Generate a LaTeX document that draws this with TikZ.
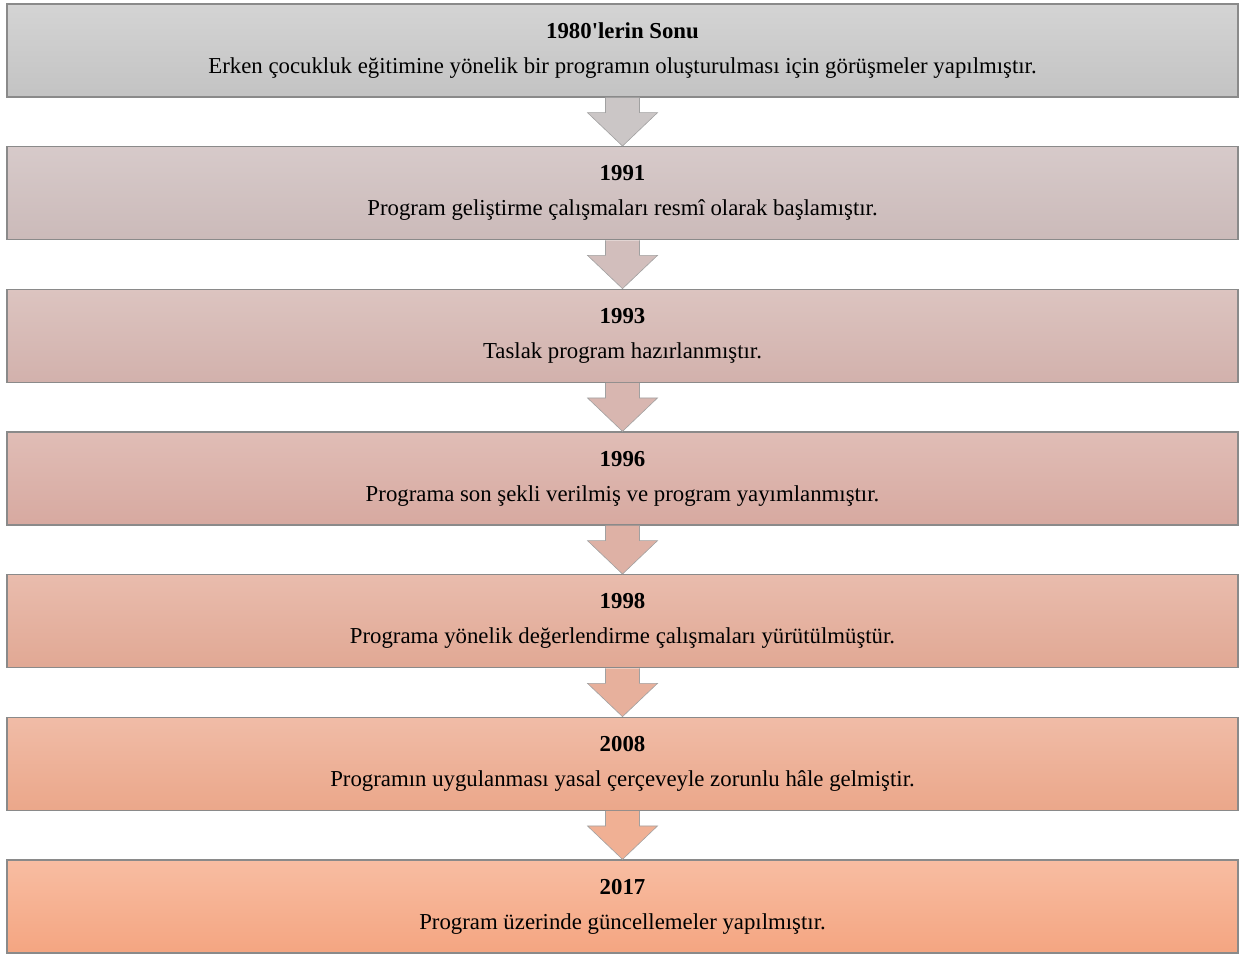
\documentclass[tikz,border=0pt]{standalone}
\usepackage{fontspec}
\setmainfont{Liberation Serif}
\usepackage{tikz}
\usetikzlibrary{calc}

\definecolor{topA}{HTML}{D4D4D4}\definecolor{botA}{HTML}{C3C3C3}
\definecolor{topB}{HTML}{D7CACA}\definecolor{botB}{HTML}{CBBAB9}
\definecolor{topC}{HTML}{DCC4C0}\definecolor{botC}{HTML}{D2B1AC}
\definecolor{topD}{HTML}{E0BDB6}\definecolor{botD}{HTML}{D7A9A0}
\definecolor{topE}{HTML}{E9BCAD}\definecolor{botE}{HTML}{E1A894}
\definecolor{topF}{HTML}{F0BCA7}\definecolor{botF}{HTML}{EBA78A}
\definecolor{topG}{HTML}{F8BDA2}\definecolor{botG}{HTML}{F4A581}
\definecolor{rim}{HTML}{8A8A8A}

\tikzset{
  period/.style={draw=rim, line width=1.3pt, minimum width=1231pt, minimum height=93pt,
    inner sep=0pt, align=center, font=\fontsize{22.8}{35}\selectfont},
  flowarr/.style={draw=rim!80, line width=0.6pt, line join=miter}
}

% block arrow from the bottom of one box to the top of the next
\newcommand{\flowarrow}[3]{%
  \filldraw[flowarr, fill=#3]
    ($(#1.south)+(-17,0)$) -- ($(#1.south)+(-17,15)$) -- ($(#1.south)+(-35,15)$)
    -- (#2.north) -- ($(#1.south)+(35,15)$) -- ($(#1.south)+(17,15)$)
    -- ($(#1.south)+(17,0)$);}

\begin{document}
\begin{tikzpicture}[x=1pt,y=-1pt]
    \useasboundingbox (0,0) rectangle (1239,956);
    \node[period, top color=topA, bottom color=botA] (y1980) at (622.5,50.5)
        {\textbf{1980\textquotesingle lerin Sonu}\\Erken çocukluk eğitimine yönelik bir programın oluşturulması için görüşmeler yapılmıştır.};
    \node[period, top color=topB, bottom color=botB] (y1991) at (622.5,193.2)
        {\textbf{1991}\\Program geliştirme çalışmaları resmî olarak başlamıştır.};
    \node[period, top color=topC, bottom color=botC] (y1993) at (622.5,335.8)
        {\textbf{1993}\\Taslak program hazırlanmıştır.};
    \node[period, top color=topD, bottom color=botD] (y1996) at (622.5,478.5)
        {\textbf{1996}\\Programa son şekli verilmiş ve program yayımlanmıştır.};
    \node[period, top color=topE, bottom color=botE] (y1998) at (622.5,621.2)
        {\textbf{1998}\\Programa yönelik değerlendirme çalışmaları yürütülmüştür.};
    \node[period, top color=topF, bottom color=botF] (y2008) at (622.5,763.8)
        {\textbf{2008}\\Programın uygulanması yasal çerçeveyle zorunlu hâle gelmiştir.};
    \node[period, top color=topG, bottom color=botG] (y2017) at (622.5,906.5)
        {\textbf{2017}\\Program üzerinde güncellemeler yapılmıştır.};
    \flowarrow{y1980}{y1991}{botA!60!topB}
    \flowarrow{y1991}{y1993}{botB!60!topC}
    \flowarrow{y1993}{y1996}{botC!60!topD}
    \flowarrow{y1996}{y1998}{botD!60!topE}
    \flowarrow{y1998}{y2008}{botE!60!topF}
    \flowarrow{y2008}{y2017}{botF!60!topG}
\end{tikzpicture}
\end{document}
